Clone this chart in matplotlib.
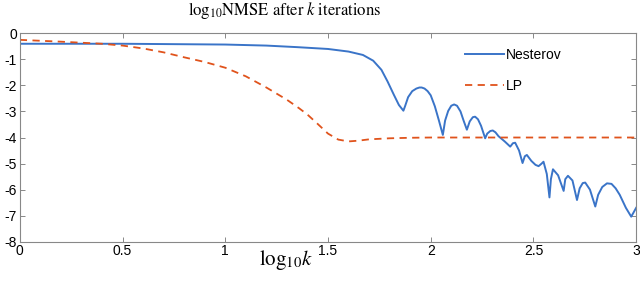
import matplotlib
matplotlib.use("Agg")
import matplotlib.pyplot as plt

# log10 k
nest_x = [0, 0.5, 1.0, 1.2, 1.35, 1.5, 1.6, 1.67, 1.72, 1.76, 1.79, 1.82, 1.845, 1.867,
          1.875, 1.89, 1.91, 1.93, 1.945, 1.956, 1.97, 1.985, 2.0, 2.02, 2.04, 2.059,
          2.07, 2.085, 2.1, 2.114, 2.128, 2.145, 2.16, 2.176, 2.19, 2.205, 2.216,
          2.23, 2.245, 2.265, 2.275, 2.29, 2.302, 2.315, 2.33, 2.36, 2.387,
          2.40, 2.411, 2.43, 2.447, 2.458, 2.468, 2.49, 2.51, 2.525, 2.54, 2.549, 2.565,
          2.578, 2.585, 2.595, 2.62, 2.647, 2.655, 2.668, 2.69, 2.712, 2.725, 2.74, 2.752,
          2.775, 2.801, 2.815, 2.835, 2.858, 2.88, 2.9, 2.92, 2.95, 2.976, 3.0]
nest_y = [-0.40, -0.40, -0.43, -0.47, -0.53, -0.60, -0.70, -0.83, -1.05, -1.40, -1.85,
          -2.35, -2.75, -2.97, -2.80, -2.45, -2.22, -2.12, -2.08, -2.08, -2.12, -2.22,
          -2.38, -2.80, -3.35, -3.90, -3.35, -2.98, -2.78, -2.73, -2.78, -3.00, -3.35,
          -3.70, -3.38, -3.22, -3.20, -3.30, -3.55, -4.03, -3.85, -3.75, -3.73, -3.80,
          -3.95, -4.15, -4.35, -4.22, -4.20, -4.50, -4.98, -4.72, -4.67, -4.90, -5.05,
          -5.10, -5.00, -4.93, -5.40, -6.30, -5.60, -5.22, -5.45, -6.05, -5.60, -5.47,
          -5.65, -6.40, -5.95, -5.75, -5.73, -6.00, -6.65, -6.20, -5.90, -5.76, -5.78,
          -5.95, -6.20, -6.70, -7.04, -6.70]

lp_x = [0, 0.2, 0.4, 0.5, 0.6, 0.7, 0.8, 0.9, 1.0, 1.1, 1.2, 1.3, 1.36, 1.4, 1.45,
        1.5, 1.55, 1.6, 1.65, 1.7, 1.8, 1.9, 2.0, 3.0]
lp_y = [-0.25, -0.32, -0.40, -0.47, -0.58, -0.73, -0.92, -1.10, -1.32, -1.65, -2.08,
        -2.55, -2.88, -3.12, -3.48, -3.85, -4.08, -4.15, -4.12, -4.07, -4.03, -4.01,
        -4.0, -4.0]

plt.rcParams['font.family'] = ['Liberation Sans', 'DejaVu Sans']
plt.rcParams['mathtext.fontset'] = 'stix'

fig = plt.figure(figsize=(6.4, 2.85), dpi=100)
ax = fig.add_axes([0.031, 0.152, 0.963, 0.731])

ax.plot(nest_x, nest_y, color='#3a74c8', linewidth=1.4, label='Nesterov')
ax.plot(lp_x, lp_y, color='#e0531c', linewidth=1.3, linestyle=(0, (4, 3)), label='LP')

ax.set_xlim(0, 3)
ax.set_ylim(-8, 0)
ax.set_xticks([0, 0.5, 1, 1.5, 2, 2.5, 3])
ax.set_xticklabels(['0', '0.5', '1', '1.5', '2', '2.5', '3'])
ax.set_yticks(range(-8, 1))
ax.set_yticklabels([str(v) for v in range(-8, 1)])
ax.tick_params(direction='in', top=True, right=True, labelsize=10, pad=2,
               length=3.5, color='#888888', width=0.7)
for s in ax.spines.values():
    s.set_color('#888888')
    s.set_linewidth(0.8)

fig.text(0.445, 0.925, r'$\mathrm{log}_{10}\mathrm{NMSE\ after\ }k\mathrm{\ iterations}$',
         fontsize=12, ha='center', va='bottom')
fig.text(0.447, 0.045, r'$\mathrm{log}_{10}k$', fontsize=15, ha='center', va='bottom')

ax.legend(loc='upper right', bbox_to_anchor=(0.90, 0.99), frameon=False,
          fontsize=10, labelspacing=1.2, handlelength=2.8, handletextpad=0.2)

fig.savefig('out.png', dpi=100)
